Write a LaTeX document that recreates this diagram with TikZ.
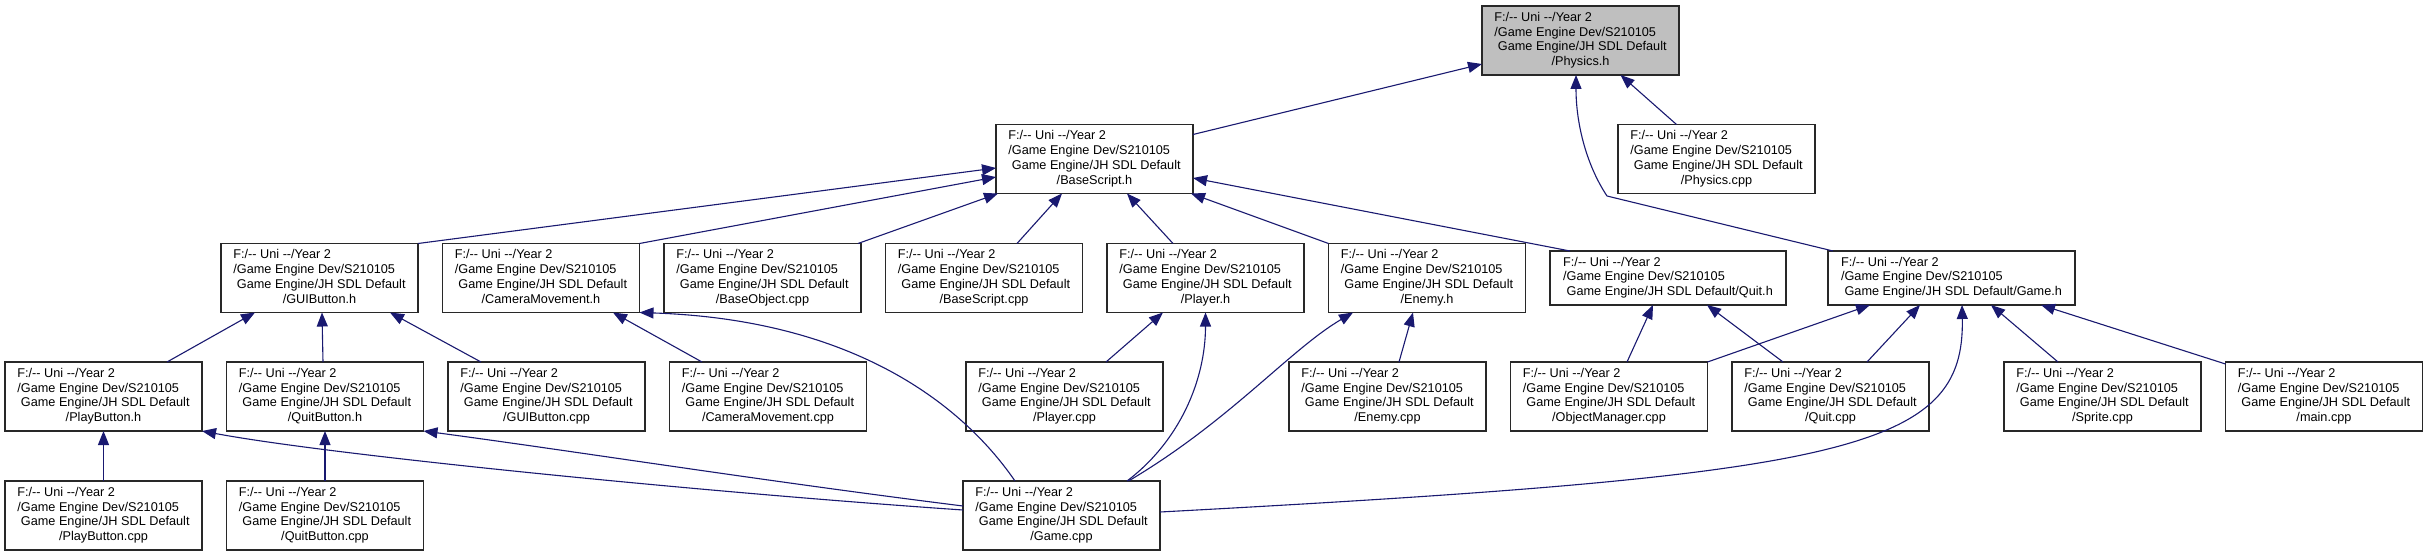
\documentclass[tikz,border=0pt]{standalone}
\usepackage{fontspec}
\newfontfamily\docfont{Liberation Sans}
\usepackage{tikz}
\usetikzlibrary{arrows.meta, positioning}
\definecolor{edgeblue}{RGB}{25, 25, 112}
\definecolor{rootgray}{RGB}{191, 191, 191}
\definecolor{boxline}{RGB}{40, 40, 40}
\newcommand{\projpath}[1]{\begin{tabular}{@{}l@{}}F:/-- Uni --/Year 2\\
  /Game Engine Dev/S210105\\
  \ Game Engine/JH SDL Default\\
  \multicolumn{1}{@{}c@{}}{/#1}\end{tabular}}
\newcommand{\projpathwide}[1]{\begin{tabular}{@{}l@{}}F:/-- Uni --/Year 2\\
  /Game Engine Dev/S210105\\
  \ Game Engine/JH SDL Default/#1\end{tabular}}
\tikzset{
  filenode/.style={
    rectangle, draw=boxline, fill=white, line width=1.2pt,
    minimum width=197pt, minimum height=69pt,
    inner sep=0pt, outer sep=0pt,
    font=\docfont\fontsize{12.7}{14.9}\selectfont
  },
  rootnode/.style={filenode, fill=rootgray},
  widenode/.style={filenode, minimum height=54pt},
  deparrow/.style={line width=1.1pt, color=edgeblue, -{Triangle[length=14pt, width=11pt]}}
}
\begin{document}
\begin{tikzpicture}[x=1pt, y=1pt, node distance=24.5pt]
  \path[use as bounding box, fill=white] (0,0) rectangle (2428,-556);

  %% --- Row 0 ---
  \node[rootnode, anchor=west] (physh) at (1482,-40.5) {\projpath{Physics.h}};

  %% --- Row 1 ---
  \node[filenode, anchor=west] (bsh) at (996,-159) {\projpath{BaseScript.h}};
  \node[filenode, right=425pt of bsh] (physcpp) {\projpath{Physics.cpp}};

  %% --- Row 2 ---
  \node[filenode, anchor=west] (guih) at (221,-278) {\projpath{GUIButton.h}};
  \node[filenode, right=of guih]    (camh)    {\projpath{CameraMovement.h}};
  \node[filenode, right=of camh]    (bobjcpp) {\projpath{BaseObject.cpp}};
  \node[filenode, right=of bobjcpp] (bscpp)   {\projpath{BaseScript.cpp}};
  \node[filenode, right=of bscpp]   (playerh) {\projpath{Player.h}};
  \node[filenode, right=of playerh] (enemyh)  {\projpath{Enemy.h}};
  \node[widenode, minimum width=236pt, right=of enemyh] (quith) {\projpathwide{Quit.h}};
  \node[widenode, minimum width=247pt, right=42pt of quith] (gameh) {\projpathwide{Game.h}};

  %% --- Row 3 ---
  \node[filenode, anchor=west] (playbtnh) at (5,-396.5) {\projpath{PlayButton.h}};
  \node[filenode, right=of playbtnh]        (quitbtnh)   {\projpath{QuitButton.h}};
  \node[filenode, right=of quitbtnh]        (guicpp)     {\projpath{GUIButton.cpp}};
  \node[filenode, right=of guicpp]          (camcpp)     {\projpath{CameraMovement.cpp}};
  \node[filenode, right=99.5pt of camcpp]   (playercpp)  {\projpath{Player.cpp}};
  \node[filenode, right=126pt of playercpp] (enemycpp)   {\projpath{Enemy.cpp}};
  \node[filenode, right=of enemycpp]        (objmgrcpp)  {\projpath{ObjectManager.cpp}};
  \node[filenode, right=of objmgrcpp]       (quitcpp)    {\projpath{Quit.cpp}};
  \node[filenode, right=75pt of quitcpp]    (spritecpp)  {\projpath{Sprite.cpp}};
  \node[filenode, right=of spritecpp]       (maincpp)    {\projpath{main.cpp}};

  %% --- Row 4 ---
  \node[filenode, below=50pt of playbtnh]      (playbtncpp) {\projpath{PlayButton.cpp}};
  \node[filenode, below=50pt of quitbtnh]      (quitbtncpp) {\projpath{QuitButton.cpp}};
  \node[filenode, right=539.5pt of quitbtncpp] (gamecpp)    {\projpath{Game.cpp}};

  %% --- Edges into Physics.h ---
  \draw[deparrow] ([yshift=-10pt]bsh.north east) -- ([yshift=11pt]physh.south west);
  \draw[deparrow] ([xshift=-40pt]physcpp.north) -- ([xshift=40pt]physh.south);
  \draw[deparrow] ([xshift=5pt]gameh.north west) -- ++(-226,55)
    .. controls +(-20,30) and +(0,-50) .. ([xshift=-4.5pt]physh.south);

  %% --- Edges into BaseScript.h ---
  \draw[deparrow] (guih.north east) -- ([yshift=-9pt]bsh.west);
  \draw[deparrow] (camh.north east) -- ([yshift=-18pt]bsh.west);
  \draw[deparrow] ([xshift=-3pt]bobjcpp.north east) -- ([xshift=2pt]bsh.south west);
  \draw[deparrow] ([xshift=33pt]bscpp.north) -- ([xshift=-32.5pt]bsh.south);
  \draw[deparrow] ([xshift=-32.5pt]playerh.north) -- ([xshift=32.5pt]bsh.south);
  \draw[deparrow] (enemyh.north west) -- ([xshift=-2pt]bsh.south east);
  \draw[deparrow] ([xshift=20pt]quith.north west) -- ([yshift=-19pt]bsh.east);

  %% --- Edges into row 2 headers ---
  \draw[deparrow] ([xshift=63.5pt]playbtnh.north) -- ([xshift=-64.5pt]guih.south);
  \draw[deparrow] ([xshift=-2pt]quitbtnh.north) -- ([xshift=2.5pt]guih.south);
  \draw[deparrow] ([xshift=-65.5pt]guicpp.north) -- ([xshift=70.5pt]guih.south);
  \draw[deparrow] ([xshift=-66pt]camcpp.north) -- ([xshift=72pt]camh.south);
  \draw[deparrow] ([xshift=-46.5pt]gamecpp.north)
    .. controls +(-55,80) and +(210,-7) .. (camh.south east);
  \draw[deparrow] ([xshift=41.5pt]playercpp.north) -- ([xshift=-42.5pt]playerh.south);
  \draw[deparrow] ([xshift=65.5pt]gamecpp.north)
    .. controls +(53,40) and +(0,-67) .. (playerh.south);
  \draw[deparrow] ([xshift=67pt]gamecpp.north)
    .. controls +(101.5,60) and +(-63,-37) .. ([xshift=-74pt]enemyh.south);
  \draw[deparrow] ([xshift=11.5pt]enemycpp.north) -- ([xshift=-14pt]enemyh.south);
  \draw[deparrow] ([xshift=18pt]objmgrcpp.north) -- ([xshift=-15pt]quith.south);
  \draw[deparrow] ([xshift=-47.5pt]quitcpp.north) -- ([xshift=39pt]quith.south);

  %% --- Edges into Game.h ---
  \draw[deparrow] (objmgrcpp.north east) -- ([xshift=-81.5pt]gameh.south);
  \draw[deparrow] ([xshift=36.5pt]quitcpp.north) -- ([xshift=-31.5pt]gameh.south);
  \draw[deparrow] ([yshift=3.5pt]gamecpp.east)
    .. controls +(690,37) and +(3,-145) .. ([xshift=10.5pt]gameh.south);
  \draw[deparrow] ([xshift=-44.5pt]spritecpp.north) -- ([xshift=39.5pt]gameh.south);
  \draw[deparrow] ([yshift=-2pt]maincpp.north west) -- ([xshift=89.5pt]gameh.south);

  %% --- Edges into the button headers ---
  \draw[deparrow] (playbtncpp) -- (playbtnh);
  \draw[deparrow] (quitbtncpp) -- (quitbtnh);
  \draw[deparrow] ([yshift=5.5pt]gamecpp.west)
    .. controls +(-263,18) and +(128,-24) .. (playbtnh.south east);
  \draw[deparrow] ([yshift=9.5pt]gamecpp.west)
    .. controls +(-200,25) and +(150,-20) .. (quitbtnh.south east);

\end{tikzpicture}
\end{document}
